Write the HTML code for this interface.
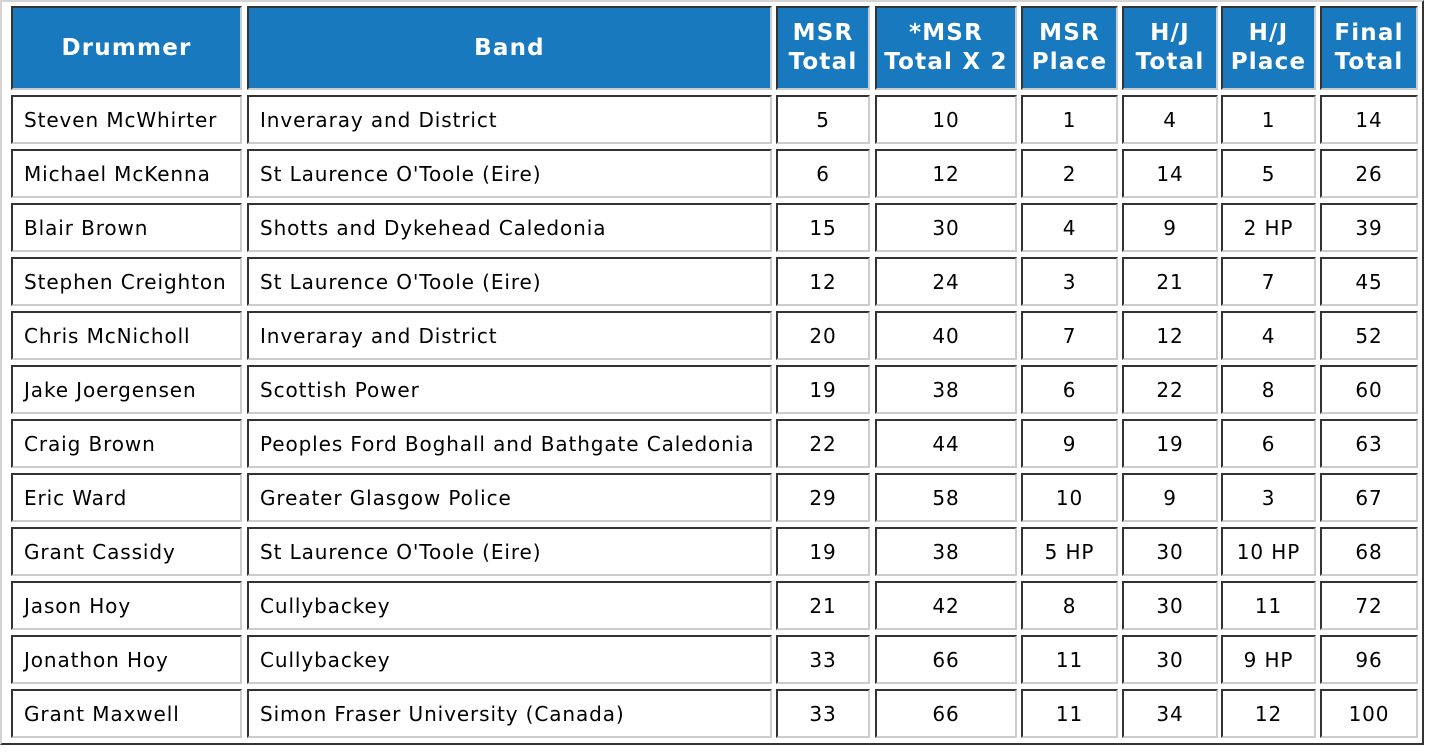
<!DOCTYPE html>
<html><head><meta charset="utf-8"><style>
body{margin:0;width:1430px;height:752px;background:#fff;position:relative;overflow:hidden;font-family:"DejaVu Sans","Liberation Sans",sans-serif}
#tbl{position:absolute;left:0;top:0;width:1420px;height:741px;border:2px solid;border-color:#d4d4d4 #333 #333 #d4d4d4}
.r{position:absolute;left:0;height:49px;width:1430px}
.h{height:84px}
.c{position:absolute;top:0;height:100%;box-sizing:border-box;border:2px solid;border-color:#333 #ccc #ccc #333;display:flex;align-items:center;justify-content:center;font-size:20px;letter-spacing:0.9px;color:#000;white-space:nowrap}
.h .c{background:#1879be;color:#fff;font-weight:bold;font-size:23px;letter-spacing:1.2px;text-align:center;line-height:29px}
.l{justify-content:flex-start;padding-left:11px}
.h .l{justify-content:center;padding-left:0}
.c1{left:11px;width:231px}.c2{left:247px;width:525px}.c3{left:776px;width:94px}.c4{left:875px;width:142px}
.c5{left:1021px;width:97px}.c6{left:1122px;width:96px}.c7{left:1221px;width:95px}.c8{left:1320px;width:98px}
</style></head><body>
<div id="tbl"></div>
<div class="r h" style="top:6px">
<div class="c c1 l">Drummer</div>
<div class="c c2 l">Band</div>
<div class="c c3">MSR<br>Total</div>
<div class="c c4">*MSR<br>Total X 2</div>
<div class="c c5">MSR<br>Place</div>
<div class="c c6">H/J<br>Total</div>
<div class="c c7">H/J<br>Place</div>
<div class="c c8">Final<br>Total</div>
</div>
<div class="r" style="top:95px"><div class="c c1 l">Steven McWhirter</div><div class="c c2 l">Inveraray and District</div><div class="c c3">5</div><div class="c c4">10</div><div class="c c5">1</div><div class="c c6">4</div><div class="c c7">1</div><div class="c c8">14</div></div>
<div class="r" style="top:149px"><div class="c c1 l">Michael McKenna</div><div class="c c2 l">St Laurence O'Toole (Eire)</div><div class="c c3">6</div><div class="c c4">12</div><div class="c c5">2</div><div class="c c6">14</div><div class="c c7">5</div><div class="c c8">26</div></div>
<div class="r" style="top:203px"><div class="c c1 l">Blair Brown</div><div class="c c2 l">Shotts and Dykehead Caledonia</div><div class="c c3">15</div><div class="c c4">30</div><div class="c c5">4</div><div class="c c6">9</div><div class="c c7">2 HP</div><div class="c c8">39</div></div>
<div class="r" style="top:257px"><div class="c c1 l">Stephen Creighton</div><div class="c c2 l">St Laurence O'Toole (Eire)</div><div class="c c3">12</div><div class="c c4">24</div><div class="c c5">3</div><div class="c c6">21</div><div class="c c7">7</div><div class="c c8">45</div></div>
<div class="r" style="top:311px"><div class="c c1 l">Chris McNicholl</div><div class="c c2 l">Inveraray and District</div><div class="c c3">20</div><div class="c c4">40</div><div class="c c5">7</div><div class="c c6">12</div><div class="c c7">4</div><div class="c c8">52</div></div>
<div class="r" style="top:365px"><div class="c c1 l">Jake Joergensen</div><div class="c c2 l">Scottish Power</div><div class="c c3">19</div><div class="c c4">38</div><div class="c c5">6</div><div class="c c6">22</div><div class="c c7">8</div><div class="c c8">60</div></div>
<div class="r" style="top:419px"><div class="c c1 l">Craig Brown</div><div class="c c2 l">Peoples Ford Boghall and Bathgate Caledonia</div><div class="c c3">22</div><div class="c c4">44</div><div class="c c5">9</div><div class="c c6">19</div><div class="c c7">6</div><div class="c c8">63</div></div>
<div class="r" style="top:473px"><div class="c c1 l">Eric Ward</div><div class="c c2 l">Greater Glasgow Police</div><div class="c c3">29</div><div class="c c4">58</div><div class="c c5">10</div><div class="c c6">9</div><div class="c c7">3</div><div class="c c8">67</div></div>
<div class="r" style="top:527px"><div class="c c1 l">Grant Cassidy</div><div class="c c2 l">St Laurence O'Toole (Eire)</div><div class="c c3">19</div><div class="c c4">38</div><div class="c c5">5 HP</div><div class="c c6">30</div><div class="c c7">10 HP</div><div class="c c8">68</div></div>
<div class="r" style="top:581px"><div class="c c1 l">Jason Hoy</div><div class="c c2 l">Cullybackey</div><div class="c c3">21</div><div class="c c4">42</div><div class="c c5">8</div><div class="c c6">30</div><div class="c c7">11</div><div class="c c8">72</div></div>
<div class="r" style="top:635px"><div class="c c1 l">Jonathon Hoy</div><div class="c c2 l">Cullybackey</div><div class="c c3">33</div><div class="c c4">66</div><div class="c c5">11</div><div class="c c6">30</div><div class="c c7">9 HP</div><div class="c c8">96</div></div>
<div class="r" style="top:689px"><div class="c c1 l">Grant Maxwell</div><div class="c c2 l">Simon Fraser University (Canada)</div><div class="c c3">33</div><div class="c c4">66</div><div class="c c5">11</div><div class="c c6">34</div><div class="c c7">12</div><div class="c c8">100</div></div>
</body></html>
